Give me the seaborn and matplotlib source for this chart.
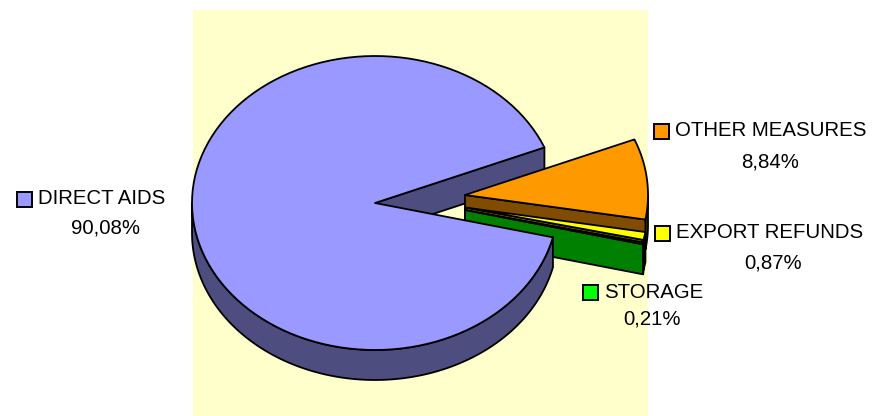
"""
3D-style pie of CAP expenditure shares, drawn as an Excel-like exploded pie.
"""

import numpy as np
import matplotlib
matplotlib.use("Agg")
import matplotlib.pyplot as plt
from matplotlib.patches import Polygon, Rectangle
import seaborn as sns

# data
CATEGORIES = ["DIRECT AIDS", "OTHER MEASURES", "EXPORT REFUNDS", "STORAGE"]
SHARES = [90.08, 8.84, 0.87, 0.21]

# styles
TOP_COLORS = ["#9999FF", "#FF9900", "#FFFF00", "#00FF00"]
SIDE_COLORS = ["#4D4D80", "#804C00", "#808000", "#008000"]
EXPLODE = [(0, 0), (90, -8), (90, 4.5), (90, 7)]
LW = 1.3

# layout (pixel space of the 873x416 canvas)
CX, CY = 375, 203
RX, RY = 183, 147
DEPTH = 30
START_ANGLE = 346.5
LABEL_POS = [(17, 199, 106, 228), (654, 131, 770, 162), (655, 233, 773, 263), (583, 292, 652, 319)]


def pt(a, z, off):
    r = np.deg2rad(a)
    return (CX + off[0] + RX * np.cos(r), CY + off[1] - RY * np.sin(r) + z)


def arc(a0, a1, z, off, n=120):
    return [pt(a, z, off) for a in np.linspace(a0, a1, n)]


def draw_top(ax, lo, hi, off, color):
    verts = [(CX + off[0], CY + off[1])] + arc(lo, hi, 0, off)
    ax.add_patch(Polygon(verts, closed=True, facecolor=color, edgecolor="black", lw=LW, joinstyle="round"))


def draw_rim(ax, lo, hi, off, color):
    for k in (-1, 0, 1):
        a0 = max(lo, 180 + 360 * k)
        a1 = min(hi, 360 + 360 * k)
        if a1 > a0:
            verts = arc(a0, a1, 0, off) + arc(a1, a0, DEPTH, off)
            ax.add_patch(Polygon(verts, closed=True, facecolor=color, edgecolor="black", lw=LW, joinstyle="round"))


def draw_faces(ax, lo, hi, off, color):
    apex_top = (CX + off[0], CY + off[1])
    apex_bot = (CX + off[0], CY + off[1] + DEPTH)
    for a, visible in ((lo, np.cos(np.deg2rad(lo)) > 0), (hi, np.cos(np.deg2rad(hi)) < 0)):
        if visible:
            verts = [apex_top, pt(a, 0, off), pt(a, DEPTH, off), apex_bot]
            ax.add_patch(Polygon(verts, closed=True, facecolor=color, edgecolor="black", lw=LW, joinstyle="round"))


sns.set_theme(style="white")
plt.rcParams["font.family"] = ["Liberation Sans", "DejaVu Sans"]

fig = plt.figure(figsize=(8.73, 4.16), dpi=100)
ax = fig.add_axes([0, 0, 1, 1])
ax.set_xlim(0, 873)
ax.set_ylim(416, 0)
ax.axis("off")

ax.add_patch(Rectangle((193, 10), 455, 410, facecolor="#FFFFCC", edgecolor="none"))

# slice angles, clockwise from the start angle
spans = []
cursor = START_ANGLE
for share in SHARES:
    hi = cursor
    lo = cursor - 360 * share / sum(SHARES)
    spans.append((lo, hi))
    cursor = lo

# main slice cut face sits behind the exploded ones
draw_faces(ax, *spans[0], EXPLODE[0], SIDE_COLORS[0])

for i in range(1, len(SHARES)):
    lo, hi = spans[i]
    draw_rim(ax, lo, hi, EXPLODE[i], SIDE_COLORS[i])
    draw_faces(ax, lo, hi, EXPLODE[i], SIDE_COLORS[i])
    draw_top(ax, lo, hi, EXPLODE[i], TOP_COLORS[i])

draw_rim(ax, *spans[0], EXPLODE[0], SIDE_COLORS[0])
draw_top(ax, *spans[0], EXPLODE[0], TOP_COLORS[0])

# labels
for name, share, color, (sx, sy, px, py) in zip(CATEGORIES, SHARES, TOP_COLORS, LABEL_POS):
    ax.add_patch(Rectangle((sx, sy - 7.5), 15, 15, facecolor=color, edgecolor="black", lw=1.4))
    ax.text(sx + 21, sy, name, fontsize=14.7, ha="left", va="center", color="black")
    ax.text(px, py, f"{share:.2f}".replace(".", ",") + "%", fontsize=14.7,
            ha="center", va="center", color="black")

fig.savefig("out.png", dpi=100)
plt.close(fig)
